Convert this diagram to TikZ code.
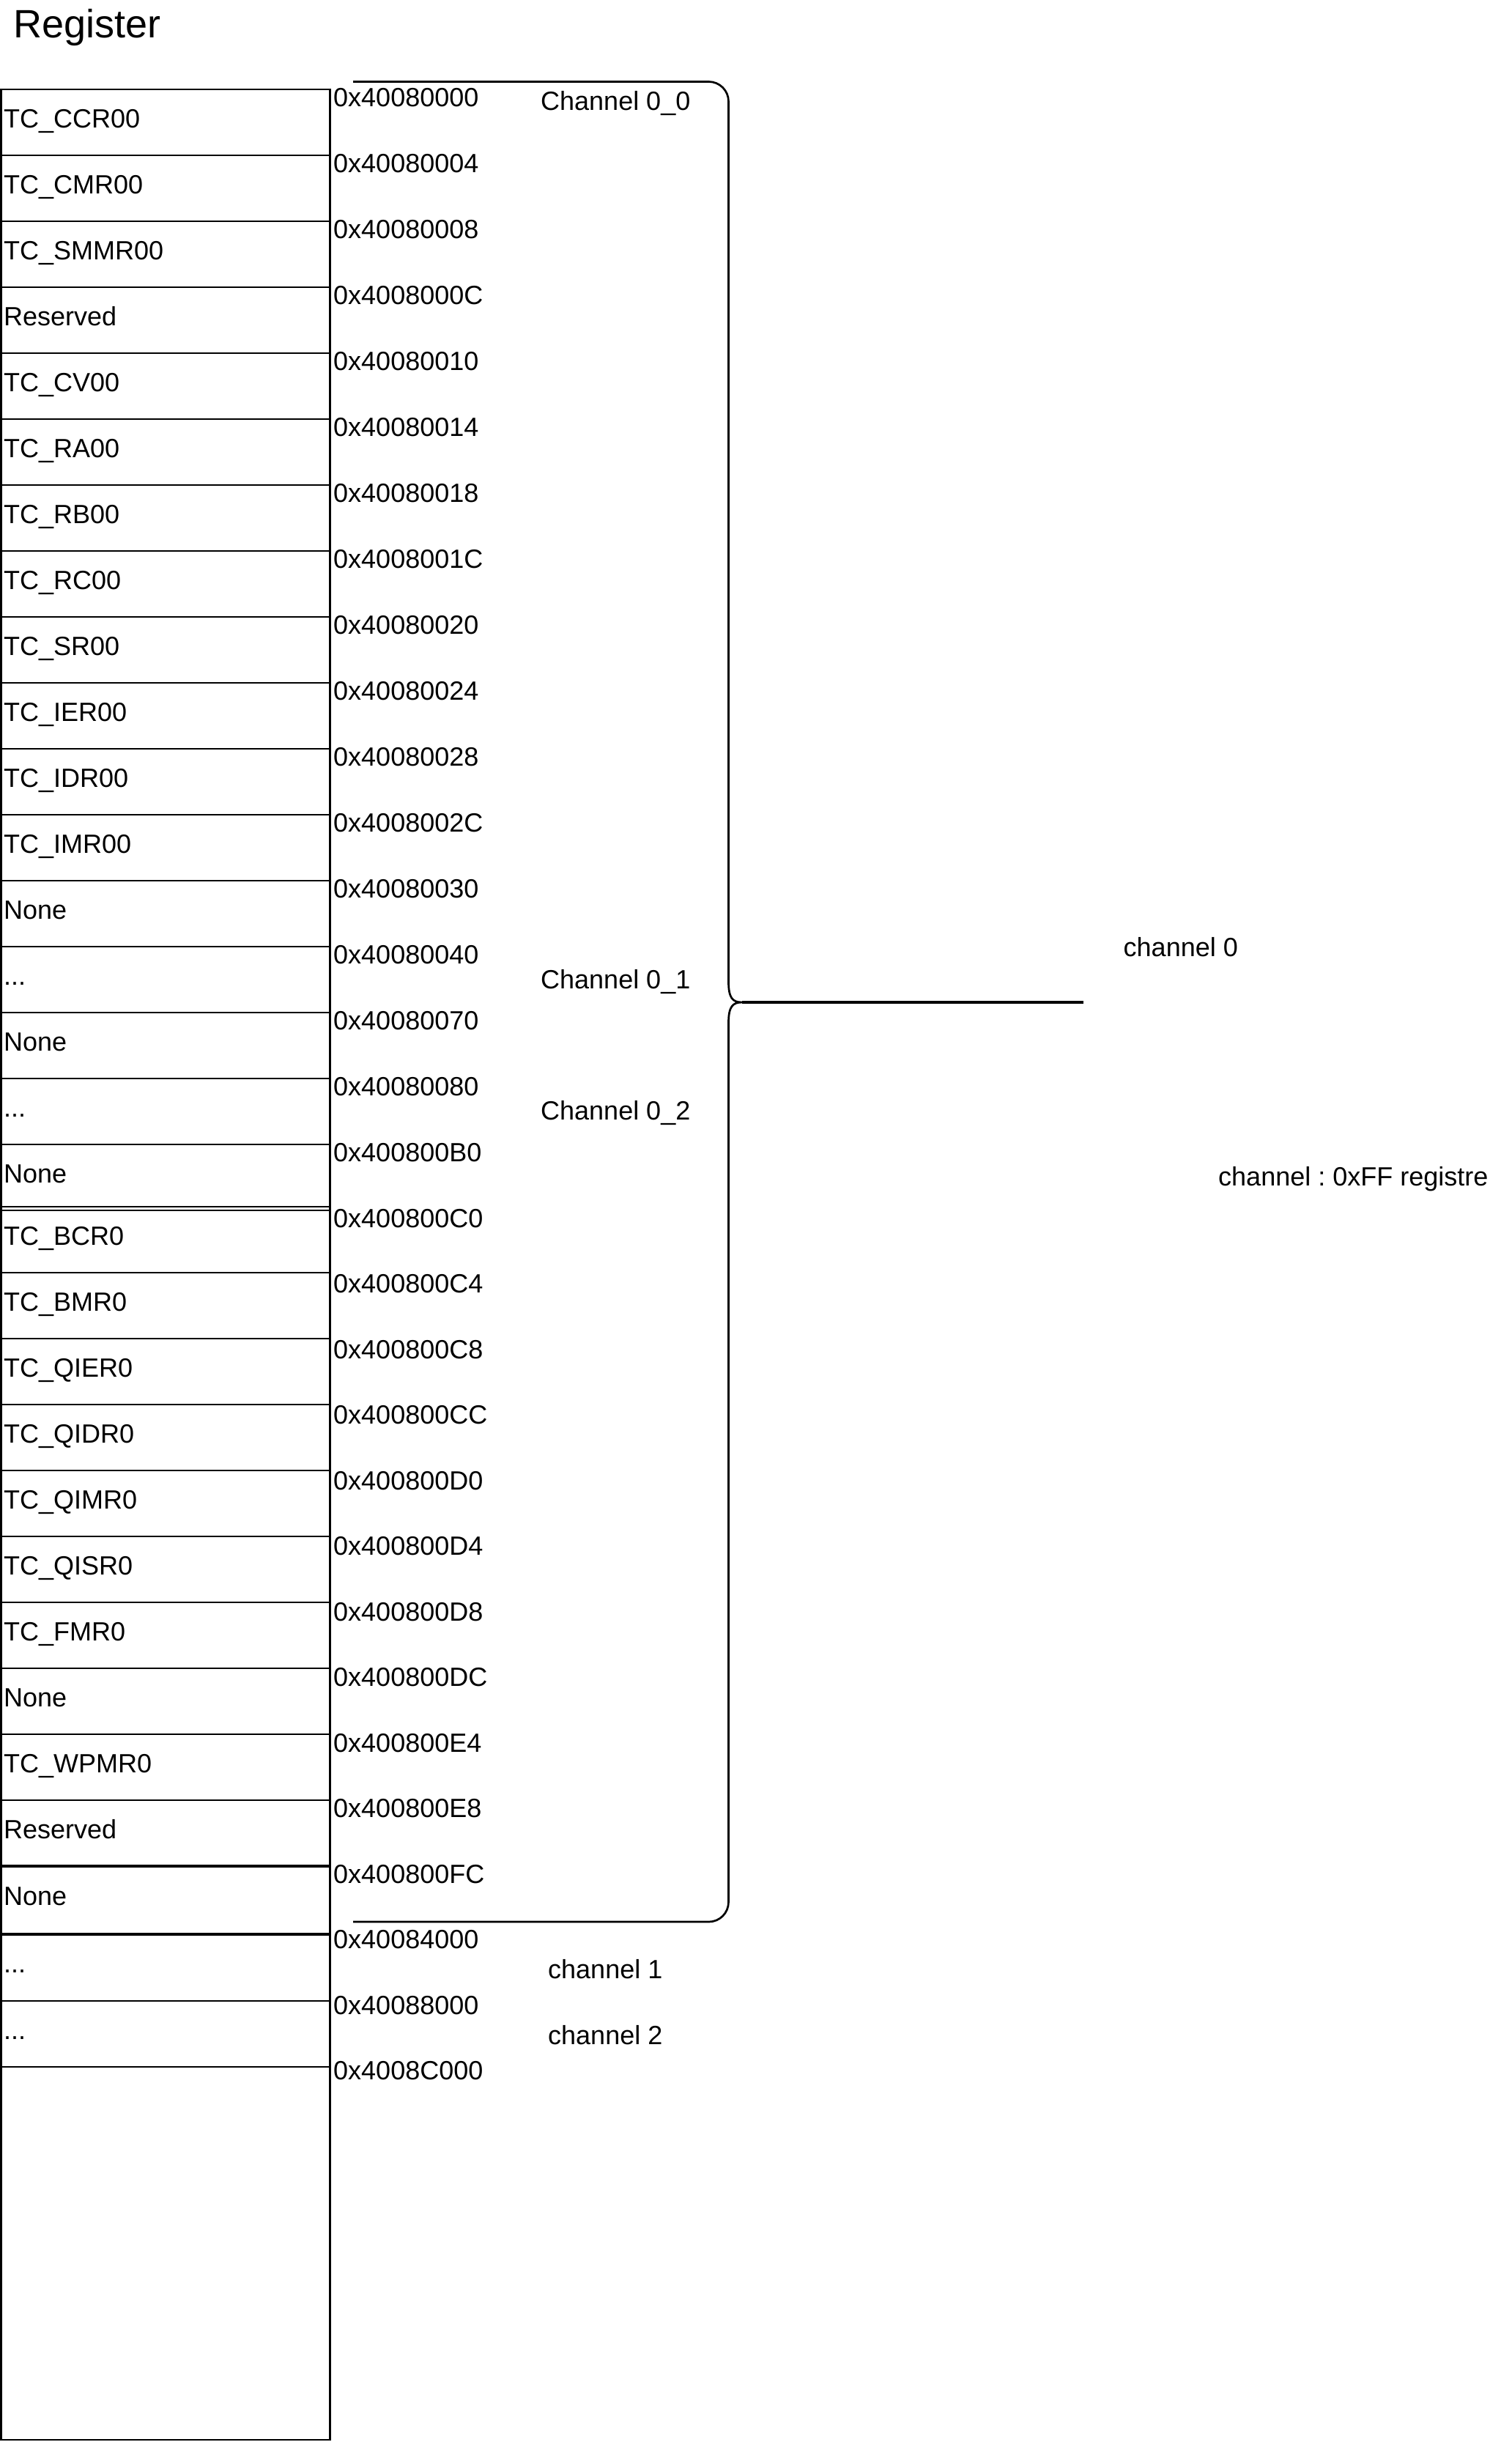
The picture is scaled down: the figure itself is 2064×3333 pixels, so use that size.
\documentclass[tikz,border=0pt]{standalone}
\usepackage{fontspec}
\setmainfont{Liberation Sans}
\newcommand\mythreedots{...}
\frenchspacing
\begin{document}
\begin{tikzpicture}[x=1pt,y=-1pt,
  box/.style={draw=black,line width=2.7pt},
  txt/.style={anchor=base west,inner sep=0pt,font=\fontsize{36}{43}\selectfont},
  bracestyle/.style={draw=black,line width=2.7pt}]
\useasboundingbox (0,0) rectangle (2064,3333);
\fill[white] (0,0) rectangle (2064,3333);

\node[anchor=base west,inner sep=0pt,font=\fontsize{54}{64}\selectfont] (title) at (18.5,51.7) {Register};

% register rows
\foreach \t/\b/\l [count=\i] in {
 122/212/TC\_CCR00, 212/302/TC\_CMR00, 302/392/TC\_SMMR00, 392/482/Reserved,
 482/572/TC\_CV00, 572/662/TC\_RA00, 662/752/TC\_RB00, 752/842/TC\_RC00,
 842/932/TC\_SR00, 932/1022/TC\_IER00, 1022/1112/TC\_IDR00, 1112/1202/TC\_IMR00,
 1202/1292/None, 1292/1382/\mythreedots, 1382/1472/None, 1472/1562/\mythreedots, 1562/1652/None,
 1647/1737/TC\_BCR0, 1737/1827/TC\_BMR0, 1827/1917/TC\_QIER0, 1917/2007/TC\_QIDR0,
 2007/2097/TC\_QIMR0, 2097/2187/TC\_QISR0, 2187/2277/TC\_FMR0, 2277/2367/None,
 2367/2457/TC\_WPMR0, 2457/2547/Reserved, 2547/2640/None, 2640/2731/\mythreedots, 2731/2821/\mythreedots}
{
  \draw[box] (1.5,\t) rectangle (450.5,\b);
  \node[txt] (r\i) at (5,{(\t+\b)/2+7}) {\l};
}
\draw[box] (1.5,2821) rectangle (450.5,3330);
\draw[line width=4pt] (1.5,2547) -- (450.5,2547);
\draw[line width=4pt] (1.5,2640) -- (450.5,2640);

% addresses
\foreach \a [count=\i from 0] in {
 0x40080000,0x40080004,0x40080008,0x4008000C,0x40080010,0x40080014,0x40080018,
 0x4008001C,0x40080020,0x40080024,0x40080028,0x4008002C,0x40080030,0x40080040,
 0x40080070,0x40080080,0x400800B0,0x400800C0,0x400800C4,0x400800C8,0x400800CC,
 0x400800D0,0x400800D4,0x400800D8,0x400800DC,0x400800E4,0x400800E8,0x400800FC,
 0x40084000,0x40088000,0x4008C000}
{
  \pgfmathsetmacro\yy{\i<17 ? 145+90*\i : 1675+89.5*(\i-17)}
  \node[txt] (a\i) at (455,\yy) {\a};
}

% brace
\coordinate (btop) at (482,111.5);
\coordinate (bbot) at (482,2623);
\coordinate (tip) at (1013,1368);
\coordinate (tail) at (1479,1368);
\draw[bracestyle] (btop) -- (967.5,111.5) arc[start angle=-90,end angle=0,radius=27]
  -- (994.5,1340) .. controls (994.5,1362) and (1000,1368) .. (tip)
  .. controls (1000,1368) and (994.5,1374) .. (994.5,1396)
  -- (994.5,2596) arc[start angle=0,end angle=90,radius=27] -- (bbot);
\draw[line width=3.8pt] (tip) -- (tail);

% labels
\node[txt] (c00) at (738,150) {Channel 0\_0};
\node[txt] (c01) at (738,1349) {Channel 0\_1};
\node[txt] (c02) at (738,1528) {Channel 0\_2};
\node[txt] (ch0) at (1533.5,1305) {channel 0};
\node[txt] (chff) at (1663,1618) {channel : 0xFF registre};
\node[txt] (ch1) at (748,2700) {channel 1};
\node[txt] (ch2) at (748,2790) {channel 2};
\end{tikzpicture}
\end{document}
